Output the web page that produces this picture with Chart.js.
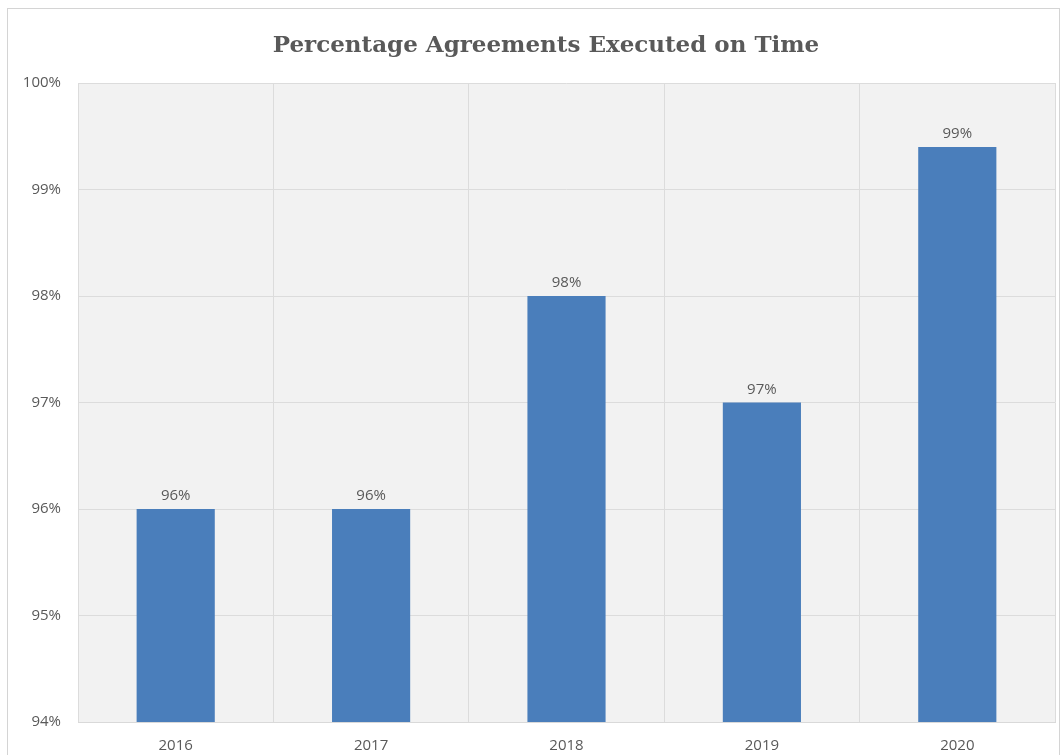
<!DOCTYPE html>
<html>
<head>
<meta charset="utf-8">
<title>Percentage Agreements Executed on Time</title>
<script src="https://cdn.jsdelivr.net/npm/chart.js@4/dist/chart.umd.min.js"></script>
<style>
  html, body { margin: 0; padding: 0; background: #fff; }
  #wrap { position: absolute; left: 0; top: 0; width: 1063px; height: 755px; }
</style>
</head>
<body>
<div id="wrap"><canvas id="agreementsChart" width="1063" height="755"></canvas></div>
<script>
// data
const years = ['2016', '2017', '2018', '2019', '2020'];
const onTimePct = [96.0, 96.0, 98.0, 97.0, 99.4];
const yTicks = [94, 95, 96, 97, 98, 99, 100];
const chartTitle = 'Percentage Agreements Executed on Time';

const grey = '#595959';
const barBlue = '#4a7ebb';

// frame, plot background and title
const framePlugin = {
    id: 'frame',
    beforeDraw(chart) {
        const c = chart.ctx;
        const a = chart.chartArea;
        c.save();
        c.fillStyle = '#ffffff';
        c.fillRect(0, 0, chart.width, chart.height);
        c.strokeStyle = '#d4d4d4';
        c.lineWidth = 1;
        c.strokeRect(7.5, 8.5, 1052, 760);
        c.fillStyle = '#f2f2f2';
        c.fillRect(a.left, a.top, a.right - a.left, a.bottom - a.top);
        c.fillStyle = grey;
        c.font = 'bold 23px "DejaVu Serif"';
        c.textAlign = 'center';
        c.textBaseline = 'middle';
        c.fillText(chartTitle, 546, 46);
        c.restore();
    }
};

// value labels above the bars
const valueLabels = {
    id: 'valueLabels',
    afterDatasetsDraw(chart) {
        const c = chart.ctx;
        const meta = chart.getDatasetMeta(0);
        c.save();
        c.fillStyle = grey;
        c.font = '15px "Open Sans"';
        c.textAlign = 'center';
        c.textBaseline = 'middle';
        meta.data.forEach((bar, i) => {
            c.fillText(Math.round(onTimePct[i]) + '%', bar.x, bar.y - 13);
        });
        c.restore();
    }
};

let ctx = document.getElementById('agreementsChart').getContext('2d');
let agreementsChart = new Chart(ctx, {
    type: 'bar',
    data: {
        labels: years,
        datasets: [{
            label: 'Executed on time',
            data: onTimePct,
            backgroundColor: barBlue,
            borderWidth: 0,
            barPercentage: 0.4,
            categoryPercentage: 1.0
        }]
    },
    options: {
        responsive: false,
        animation: false,
        layout: { padding: { top: 83, right: 8, bottom: 2, left: 0 } },
        plugins: {
            legend: { display: false },
            tooltip: { enabled: false }
        },
        scales: {
            x: {
                afterFit(scale) { scale.height = 31; },
                grid: { offset: true, color: '#dcdcdc', drawTicks: false },
                border: { color: '#d9d9d9' },
                ticks: { color: grey, font: { family: 'Open Sans', size: 15 }, padding: 15 }
            },
            y: {
                min: 94,
                max: 100,
                afterFit(scale) { scale.width = 78; },
                afterBuildTicks(scale) { scale.ticks = yTicks.map(v => ({ value: v })); },
                grid: { color: '#dcdcdc', drawTicks: false },
                border: { display: false },
                ticks: {
                    color: grey,
                    font: { family: 'Open Sans', size: 15 },
                    padding: 17,
                    callback: v => v + '%'
                }
            }
        }
    },
    plugins: [framePlugin, valueLabels]
});
</script>
</body>
</html>
